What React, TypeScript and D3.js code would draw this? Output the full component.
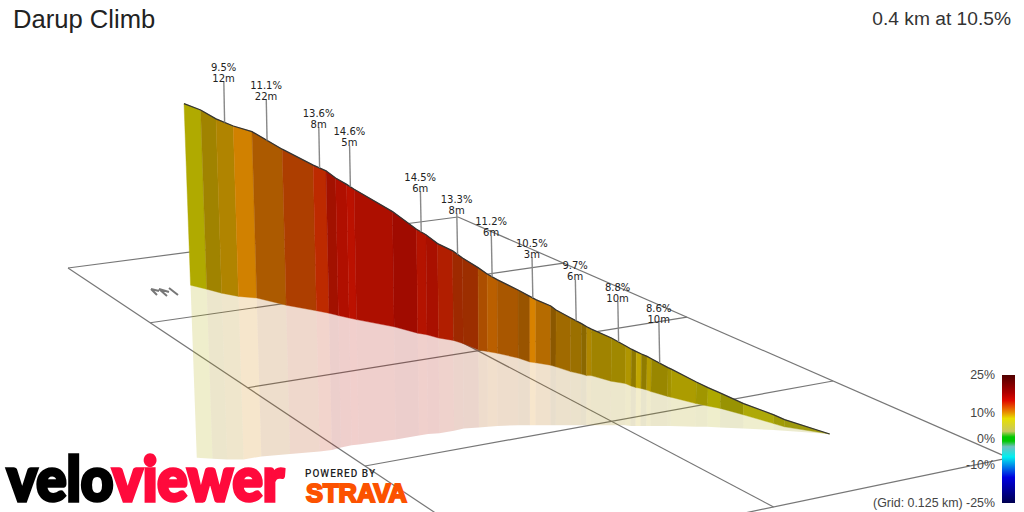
import * as d3 from "d3";

const title = "Darup Climb";
const summary = "0.4 km at 10.5%";
const gridNote = "(Grid: 0.125 km) -25%";

// climb profile, one entry per station
const stationDistance = [
  0, 10.4, 20, 30.8, 42.5, 61.4, 80.8, 88.8, 94.8, 101.7, 106.4, 130.4, 145.4, 151.3, 158.6,
  168, 174.2, 183.9, 189.6, 195.8, 208.9, 216.3, 220, 229.4, 232.7, 241.9, 248.6, 251.9, 254.8,
  267.3, 276.3, 279.8, 282.9, 286.1, 289.6, 292.3, 302.7, 304.8, 320.4, 327.7, 335.6, 350,
  368.9, 375.6, 403.8,
];
const topLevel = [
  41.3, 40.5, 39.4, 38.5, 37.8, 35.6, 33.6, 32.9, 32, 31.2, 30.6, 27.8, 25.6, 24.9, 23.8, 22.9,
  22, 20.8, 20, 19.3, 18, 17.2, 16.8, 16, 15.5, 14.5, 13.8, 13.4, 13.1, 12, 11, 10.6, 10.3, 10,
  9.7, 9.4, 8.3, 8.1, 6.5, 5.8, 5.1, 3.8, 2.4, 1.8, 0,
];
const bandLevel = [
  18.6, 18.1, 17.6, 17.2, 17, 16.1, 15.4, 15.1, 14.8, 14.5, 14.3, 13.4, 12.6, 12.4, 12, 11.7,
  11.3, 10.5, 10.3, 10.1, 9.5, 9, 8.9, 8.6, 8.4, 7.8, 7.5, 7.3, 7.3, 6.6, 6.3, 6, 5.8, 5.7, 5.5,
  5.3, 4.7, 4.6, 3.8, 3.5, 3.2, 2.4, 1.3, 0.9, 0,
];
const trackLevel = [
  -2.96, -3.1, -3.2, -3.2, -2.8, -2.5, -2.2, -2, -1.7, -1.4, -1.3, -0.7, -0.2, 0, 0.1, 0.4, 0.7,
  0.8, 0.9, 1, 1.1, 1.1, 1.1, 1.1, 1.1, 1.1, 1.1, 1.1, 1.1, 1.1, 1.1, 1, 1, 1, 1, 1, 1, 1, 0.9,
  0.9, 0.8, 0.7, 0.5, 0.4, 0,
];

// one entry per segment between stations
const segmentGradient = [
  8, 9, 9.5, 10.4, 11.1, 12.5, 13.6, 14.5, 14.7, 14.6, 14.7, 14.8, 14.5, 14.6, 14, 13.3, 13, 11.7,
  11.2, 11.2, 10.9, 10.5, 10.6, 10.3, 10.1, 9.7, 9.5, 9.4, 9, 8.8, 8.8, 8.8, 8.7, 8.7, 8.7, 8.6,
  8.5, 8.4, 8.2, 8, 7.8, 7.5, 7.5, 7,
];
const segmentLight = [
  0.76, 0.69, 0.76, 0.9, 0.74, 0.75, 0.83, 0.72, 0.78, 0.83, 0.77, 0.71, 0.8, 0.75, 0.78, 0.69,
  0.68, 0.74, 0.8, 0.73, 0.66, 0.93, 0.78, 0.6, 0.69, 0.67, 0.6, 0.76, 0.69, 0.69, 0.76, 0.62,
  0.83, 0.62, 0.78, 0.66, 0.7, 0.74, 0.69, 0.75, 0.66, 0.76, 0.7, 0.7,
];

// callouts: which segment and how long it is
const calloutSegment = [2, 4, 6, 9, 12, 15, 18, 21, 25, 29, 35];
const calloutMetres = [12, 22, 8, 5, 6, 8, 6, 3, 6, 10, 10];

// gradient colour ramp
const rampGradient = [-25, -15, -7, -3, -0.8, 0.8, 3, 8, 10.5, 12, 15, 18, 25];
const rampColor = [
  "#000050", "#0000e0", "#00f0f0", "#70c0c0", "#00c800", "#00c800", "#c8c860", "#e8e000",
  "#e88c00", "#e86000", "#e00a00", "#b00000", "#500000",
];
const legendTicks = [25, 10, 0, -10];

const gridRows = [0, 1, 2, 3, 4];
const gridCols = [0, 1, 2];

const width = 1024;
const height = 512;

const x = d3.scaleLinear().domain([0, 404]).range([184, 830]);
const y = d3.scaleLinear().domain([0, 42]).range([434, 98]);
const legendY = d3.scaleLinear().domain([25, -25]).range([375, 503]);
const ramp = d3
  .scaleLinear<string>()
  .domain(rampGradient)
  .range(rampColor)
  .interpolate(d3.interpolateRgb);

// verticals converge on a point far below the picture
const vanishX = 530;
const vanishDepth = 9600;
const corner = (i: number, level: number): [number, number] => {
  const px = x(stationDistance[i]);
  const drop = y(level) - y(topLevel[i]);
  return [px + ((vanishX - px) * drop) / vanishDepth, y(level)];
};

// ground plane of the grid, perspective from four corners
const quad = [
  [68, 268],
  [458, 217],
  [833, 381],
  [365, 466],
];
const dx1 = quad[1][0] - quad[2][0];
const dx2 = quad[3][0] - quad[2][0];
const dy1 = quad[1][1] - quad[2][1];
const dy2 = quad[3][1] - quad[2][1];
const sx = quad[0][0] - quad[1][0] + quad[2][0] - quad[3][0];
const sy = quad[0][1] - quad[1][1] + quad[2][1] - quad[3][1];
const den = dx1 * dy2 - dx2 * dy1;
const g = (sx * dy2 - dx2 * sy) / den;
const h = (dx1 * sy - sx * dy1) / den;
const ground = (col: number, row: number): [number, number] => {
  const u = col / 2;
  const v = row / 3;
  const w = g * u + h * v + 1;
  return [
    ((quad[1][0] - quad[0][0] + g * quad[1][0]) * u + (quad[3][0] - quad[0][0] + h * quad[3][0]) * v + quad[0][0]) / w,
    ((quad[1][1] - quad[0][1] + g * quad[1][1]) * u + (quad[3][1] - quad[0][1] + h * quad[3][1]) * v + quad[0][1]) / w,
  ];
};

const poly = d3.line();

const segmentColor = (i: number) => {
  const c = d3.rgb(ramp(segmentGradient[i]));
  const k = segmentLight[i];
  return d3.rgb(c.r * k, c.g * k, c.b * k).formatHex();
};

const App = () => {
  const segments = segmentGradient.map((_, i) => i);
  const lastRow = gridRows[gridRows.length - 1];
  const lastCol = gridCols[gridCols.length - 1];

  return (
    <svg
      width={width}
      height={height}
      viewBox={`0 0 ${width} ${height}`}
      style={{ position: "absolute", left: 0, top: 0, background: "#fff" }}
    >
      <defs>
        <linearGradient id="ramp" x1="0" x2="0" y1="0" y2="1">
          {[...rampGradient].reverse().map((d, i) => (
            <stop
              key={d}
              offset={(25 - d) / 50}
              stopColor={rampColor[rampColor.length - 1 - i]}
            />
          ))}
        </linearGradient>
      </defs>

      {/* grid */}
      <g stroke="#777" strokeWidth={1.2} fill="none">
        {gridRows.map((r) => {
          const [a, b] = [ground(0, r), ground(lastCol, r)];
          return <line key={r} x1={a[0]} y1={a[1]} x2={b[0]} y2={b[1]} />;
        })}
        {gridCols.map((c) => {
          const [a, b] = [ground(c, 0), ground(c, lastRow)];
          return <line key={c} x1={a[0]} y1={a[1]} x2={b[0]} y2={b[1]} />;
        })}
      </g>

      {/* north marker */}
      <path
        d="M151 289l6 6M151 289l8 2M159 289l8 7M159 289l10 3M169 288l9 7"
        stroke="#777"
        strokeWidth={2}
        fill="none"
      />

      {/* shadow on the ground */}
      {segments.map((i) => (
        <path
          key={i}
          d={
            poly([
              corner(i, bandLevel[i]),
              corner(i + 1, bandLevel[i + 1]),
              corner(i + 1, trackLevel[i + 1]),
              corner(i, trackLevel[i]),
            ]) + "Z"
          }
          fill={segmentColor(i)}
          fillOpacity={0.2}
        />
      ))}

      {/* coloured wall */}
      {segments.map((i) => (
        <path
          key={i}
          d={
            poly([
              corner(i, topLevel[i]),
              corner(i + 1, topLevel[i + 1]),
              corner(i + 1, bandLevel[i + 1]),
              corner(i, bandLevel[i]),
            ]) + "Z"
          }
          fill={segmentColor(i)}
          stroke={segmentColor(i)}
          strokeWidth={0.4}
        />
      ))}
      <path
        d={poly(stationDistance.map((_, i) => corner(i, topLevel[i]))) ?? ""}
        fill="none"
        stroke="#333"
        strokeWidth={1.3}
      />

      {/* callouts */}
      {calloutSegment.map((s, i) => {
        const cx = (x(stationDistance[s]) + x(stationDistance[s + 1])) / 2;
        const cy = (y(topLevel[s]) + y(topLevel[s + 1])) / 2;
        return (
          <g key={s} fontFamily="DejaVu Sans" fontSize={10} fill="#222" textAnchor="middle">
            <line x1={cx} y1={cy} x2={cx - 0.8} y2={cy - 41} stroke="#888" strokeWidth={1.4} />
            <text x={cx - 1} y={cy - 51.5}>
              {segmentGradient[s].toFixed(1)}%
            </text>
            <text x={cx - 1} y={cy - 40.5}>
              {calloutMetres[i]}m
            </text>
          </g>
        );
      })}

      {/* legend */}
      <rect x={1002} y={375} width={13} height={128} fill="url(#ramp)" />
      <g fontFamily="Liberation Sans" fontSize={12.4} fill="#444" textAnchor="end">
        {legendTicks.map((t) => (
          <text key={t} x={995} y={legendY(t) + 4}>
            {t}%
          </text>
        ))}
        <text x={995} y={legendY(-25) + 4}>
          {gridNote}
        </text>
      </g>

      {/* titles */}
      <text x={13} y={28} fontFamily="Liberation Sans" fontSize={25.6} fill="#222">
        {title}
      </text>
      <text x={1011} y={25} textAnchor="end" fontFamily="Liberation Sans" fontSize={19.2} fill="#333">
        {summary}
      </text>

      {/* logos */}
      <text
        x={7}
        y={500.5}
        textLength={277}
        lengthAdjust="spacingAndGlyphs"
        fontFamily="Lato"
        fontWeight={900}
        fontSize={60}
        strokeWidth={3.4}
      >
        <tspan fill="#000" stroke="#000">velo</tspan>
        <tspan fill="#ff0a3c" stroke="#ff0a3c">viewer</tspan>
      </text>
      <text x={305} y={477} textLength={70} fontFamily="Roboto" fontWeight={500} fontSize={10} fill="#222">
        POWERED BY
      </text>
      <text
        x={306}
        y={502}
        textLength={101}
        lengthAdjust="spacingAndGlyphs"
        fontFamily="Liberation Sans"
        fontWeight={700}
        fontSize={25.5}
        fill="#fc5200"
        stroke="#fc5200"
        strokeWidth={2}
      >
        STRAVA
      </text>
    </svg>
  );
};

export default App;
